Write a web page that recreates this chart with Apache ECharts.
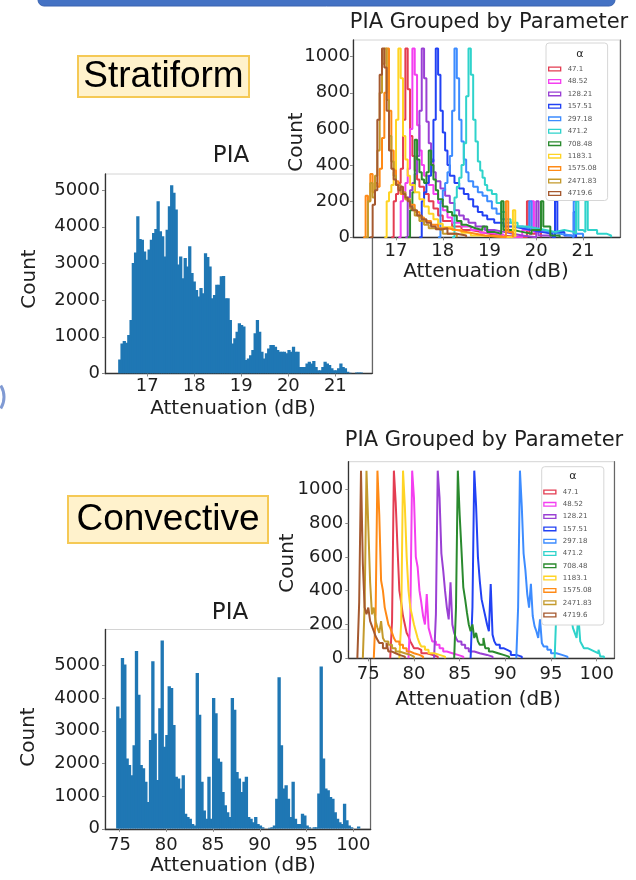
<!DOCTYPE html>
<html>
<head>
<meta charset="utf-8">
<script src="https://cdn.jsdelivr.net/npm/echarts@6.0.0/dist/echarts.min.js"></script>
<style>
  html, body { margin: 0; padding: 0; background: #ffffff; }
  #chart { width: 636px; height: 880px; }
</style>
</head>
<body>
<div id="chart"></div>
<script>
// ---------- Stratiform PIA histogram (counts per bin) ----------
const STRAT_BIN_START = 16.38;
const STRAT_BIN_WIDTH = 0.048;
const STRAT_COUNTS = [
  380, 820, 885, 840, 1050, 1460, 3010, 3300, 4290, 3670,
  3650, 3330, 3100, 3380, 3650, 3830, 3940, 4700, 3880, 3740,
  3190, 3920, 4560, 5130, 4930, 4470, 2970, 3190, 2600, 3150,
  2920, 3470, 2740, 2510, 2280, 2100, 2330, 2190, 3280, 3180,
  2920, 2050, 2140, 2420, 2420, 2650, 2660, 2050, 2050, 1460,
  820, 960, 1140, 1370, 1320, 1280, 365, 410, 500, 640,
  1100, 1460, 1140, 590, 410, 550, 680, 775, 775, 730,
  640, 590, 590, 590, 550, 640, 590, 730, 590, 590,
  180, 180, 180, 270, 320, 270, 340, 180, 90, 90,
  180, 320, 270, 230, 140, 90, 90, 140, 270, 180,
  140, 45, 20, 0, 0, 30, 30, 30
];

// ---------- Convective PIA histogram (counts per bin) ----------
const CONV_BIN_START = 74.64;
const CONV_BIN_WIDTH = 0.25;
const CONV_COUNTS = [
  3740, 3380, 5230, 5030, 2150, 1950, 1640, 2560, 5440, 4100,
  1950, 1850, 1440, 820, 2720, 5130, 2920, 1490, 3690, 5760,
  2510, 2870, 4360, 4310, 3180, 1590, 1540, 1230, 1640, 460,
  360, 310, 150, 100, 4770, 3490, 1440, 560, 310, 1590,
  310, 4000, 3540, 2150, 2050, 1130, 720, 510, 360, 4000,
  3640, 1740, 1540, 1130, 1440, 1590, 360, 310, 200, 360,
  150, 100, 50, 0, 0, 30, 50, 100, 920, 4640,
  2560, 1230, 1330, 920, 360, 1440, 310, 150, 150, 460,
  410, 100, 50, 0, 50, 50, 1080, 4970, 2150, 1230,
  1180, 970, 920, 510, 310, 200, 150, 770, 260, 100,
  50, 0, 0, 70
];

// ---------- parameter values (alpha) ----------
const ALPHA_LABELS = ['47.1', '48.52', '128.21', '157.51', '297.18', '471.2',
                      '708.48', '1183.1', '1575.08', '2471.83', '4719.6'];

// ---------- tick labels ----------
const STRAT_X_TICKS = [17, 18, 19, 20, 21];
const CONV_X_TICKS = [75, 80, 85, 90, 95, 100];
const HIST_Y_TICKS = [0, 1000, 2000, 3000, 4000, 5000];
const GROUP_Y_TICKS = [0, 200, 400, 600, 800, 1000];

// ---------- stratiform, grouped by alpha: [bin left edge (dB), count] ----------
const STRAT_A47_1 = [[16.9,0],[16.95,200],[17.0,240],[17.05,300],[17.1,380],[17.15,650],[17.2,1045],[17.25,820],[17.3,560],[17.35,450],[17.4,370],[17.45,320],[17.5,280],[17.6,240],[17.7,200],[17.8,160],[17.9,120],[18.0,90],[18.2,60],[18.4,40],[18.6,30],[18.8,20],[19.0,10],[19.2,0],[19.8,200],[19.85,20],[20.0,40],[20.1,0]];
const STRAT_A48_52 = [[17.05,0],[17.1,200],[17.15,240],[17.2,300],[17.25,380],[17.3,600],[17.35,1045],[17.4,900],[17.45,620],[17.5,480],[17.55,400],[17.6,340],[17.7,290],[17.8,240],[17.9,190],[18.0,150],[18.1,110],[18.2,80],[18.4,60],[18.6,40],[18.8,25],[19.0,15],[19.3,0],[19.7,40],[19.9,200],[19.95,30],[20.2,20],[20.3,0]];
const STRAT_A128_21 = [[17.2,0],[17.25,220],[17.3,260],[17.35,300],[17.4,350],[17.45,450],[17.5,700],[17.55,1045],[17.6,880],[17.65,640],[17.7,520],[17.75,430],[17.8,360],[17.85,310],[17.95,270],[18.05,230],[18.15,190],[18.25,150],[18.35,120],[18.45,100],[18.55,80],[18.7,60],[18.9,40],[19.1,30],[19.3,20],[19.5,10],[19.7,0],[20.0,200],[20.05,10],[20.3,0]];
const STRAT_A157_51 = [[17.5,0],[17.55,200],[17.6,250],[17.65,300],[17.7,340],[17.75,420],[17.8,650],[17.85,1045],[17.9,900],[17.95,700],[18.0,580],[18.05,480],[18.1,400],[18.15,340],[18.25,300],[18.35,270],[18.45,240],[18.55,210],[18.65,170],[18.75,140],[18.85,120],[18.95,100],[19.1,80],[19.3,60],[19.5,50],[19.7,40],[19.9,30],[20.1,20],[20.35,0],[20.4,200],[20.45,30],[20.6,10],[20.75,0],[20.8,140],[20.85,0]];
const STRAT_A297_18 = [[17.9,0],[17.95,200],[18.0,260],[18.05,300],[18.1,360],[18.15,450],[18.2,700],[18.25,1045],[18.3,880],[18.35,650],[18.4,530],[18.45,430],[18.5,360],[18.55,310],[18.65,280],[18.75,250],[18.85,230],[18.95,200],[19.05,160],[19.15,130],[19.25,100],[19.35,80],[19.5,60],[19.7,50],[19.85,200],[19.9,40],[20.1,30],[20.3,20],[20.5,10],[20.75,0],[20.8,200],[20.85,20],[21.0,0]];
const STRAT_A471_2 = [[18.2,0],[18.25,220],[18.3,280],[18.35,330],[18.4,400],[18.45,520],[18.5,780],[18.55,1045],[18.6,900],[18.65,650],[18.7,530],[18.75,420],[18.8,370],[18.85,330],[18.9,290],[18.95,260],[19.05,240],[19.15,190],[19.25,140],[19.35,100],[19.45,80],[19.6,60],[19.8,50],[20.0,40],[20.2,30],[20.4,40],[20.6,30],[20.8,20],[20.85,200],[20.9,40],[21.0,30],[21.05,200],[21.1,40],[21.3,20],[21.5,10],[21.6,0]];
const STRAT_A708_48 = [[17.25,0],[17.3,150],[17.35,250],[17.4,540],[17.45,430],[17.5,360],[17.55,320],[17.6,300],[17.65,360],[17.7,480],[17.75,400],[17.8,320],[17.85,260],[17.9,210],[18.0,170],[18.1,140],[18.2,120],[18.3,90],[18.4,70],[18.5,60],[18.6,50],[18.7,40],[18.85,60],[18.95,30],[19.1,20],[19.25,200],[19.3,40],[19.5,30],[19.7,20],[19.9,40],[20.1,200],[20.15,60],[20.3,10],[20.5,0]];
const STRAT_A1183_1 = [[16.75,0],[16.8,200],[16.85,250],[16.9,290],[16.95,360],[17.0,650],[17.05,1045],[17.1,880],[17.15,560],[17.2,430],[17.25,340],[17.3,290],[17.4,250],[17.5,210],[17.6,170],[17.7,130],[17.8,100],[17.9,75],[18.0,55],[18.2,40],[18.4,25],[18.6,10],[18.8,0],[19.5,150],[19.55,0]];
const STRAT_A1575_08 = [[16.3,0],[16.35,230],[16.4,200],[16.45,350],[16.5,250],[16.55,300],[16.6,280],[16.65,380],[16.7,550],[16.75,800],[16.8,1045],[16.85,700],[16.9,480],[16.95,370],[17.0,310],[17.05,270],[17.1,240],[17.2,210],[17.3,180],[17.4,140],[17.5,110],[17.6,90],[17.75,70],[17.9,50],[18.1,40],[18.3,30],[18.5,20],[18.7,10],[18.9,0],[19.35,200],[19.4,30],[19.5,0]];
const STRAT_A2471_83 = [[16.35,0],[16.4,200],[16.45,300],[16.5,220],[16.55,340],[16.6,480],[16.65,800],[16.7,960],[16.75,1045],[16.8,760],[16.85,560],[16.9,420],[16.95,340],[17.0,290],[17.1,250],[17.2,210],[17.3,160],[17.4,120],[17.5,90],[17.6,70],[17.7,50],[17.85,40],[18.0,20],[18.3,0]];
const STRAT_A4719_6 = [[16.45,0],[16.5,180],[16.55,260],[16.6,650],[16.65,900],[16.7,1045],[16.75,940],[16.8,700],[16.85,480],[16.9,380],[16.95,320],[17.0,290],[17.05,260],[17.1,280],[17.15,240],[17.2,220],[17.25,200],[17.3,170],[17.35,150],[17.45,120],[17.55,100],[17.65,80],[17.75,60],[17.85,45],[18.0,50],[18.1,20],[18.3,10],[18.5,0]];

// ---------- convective, grouped by alpha: [bin left edge (dB), count] ----------
const CONV_A47_1 = [[77.4,0],[77.6,220],[77.8,1110],[78.0,920],[78.2,650],[78.4,400],[78.6,330],[78.8,250],[79.0,200],[79.2,150],[79.4,130],[79.6,100],[79.8,80],[80.0,60],[80.4,50],[80.8,30],[81.4,20],[82.0,10],[82.6,0]];
const CONV_A48_52 = [[79.4,0],[79.6,250],[79.8,1110],[80.0,950],[80.2,600],[80.4,540],[80.6,400],[80.8,330],[81.0,250],[81.2,200],[81.4,380],[81.6,180],[81.8,140],[82.0,100],[82.4,80],[82.8,60],[83.2,40],[83.6,30],[84.2,20],[84.8,10],[85.4,0]];
const CONV_A128_21 = [[82.2,0],[82.4,260],[82.6,1110],[82.8,950],[83.0,620],[83.2,520],[83.4,400],[83.6,300],[83.8,230],[84.0,450],[84.2,200],[84.4,150],[84.6,120],[84.8,100],[85.2,80],[85.6,60],[86.0,40],[86.6,30],[87.2,20],[88.0,10],[88.6,0]];
const CONV_A157_51 = [[86.2,0],[86.4,300],[86.6,1110],[86.8,900],[87.0,600],[87.2,460],[87.4,350],[87.6,300],[87.8,250],[88.0,200],[88.2,160],[88.4,440],[88.6,140],[88.8,100],[89.0,80],[89.4,60],[89.8,50],[90.2,40],[90.6,20],[91.2,10],[91.8,0]];
const CONV_A297_18 = [[91.2,0],[91.4,300],[91.6,1110],[91.8,900],[92.0,620],[92.2,520],[92.4,380],[92.6,300],[92.8,440],[93.0,250],[93.2,190],[93.4,160],[93.6,120],[93.8,230],[94.0,90],[94.2,70],[94.6,50],[95.0,30],[95.6,20],[96.2,10],[96.8,0]];
const CONV_A471_2 = [[95.4,0],[95.6,300],[95.8,1110],[96.0,850],[96.2,550],[96.4,420],[96.6,330],[96.8,300],[97.0,460],[97.2,250],[97.4,180],[97.6,150],[97.8,120],[98.0,250],[98.2,100],[98.4,80],[98.6,60],[99.0,50],[99.4,40],[99.8,30],[100.2,50],[100.4,10],[100.8,0]];
const CONV_A708_48 = [[84.4,0],[84.6,300],[84.8,1110],[85.0,850],[85.2,640],[85.4,420],[85.6,350],[85.8,270],[86.0,200],[86.2,160],[86.4,200],[86.6,120],[86.8,150],[87.0,100],[87.2,80],[87.6,120],[87.8,60],[88.2,40],[88.6,30],[89.2,20],[89.8,10],[90.4,0]];
const CONV_A1183_1 = [[78.4,0],[78.6,210],[78.8,1110],[79.0,900],[79.2,600],[79.4,400],[79.6,300],[79.8,250],[80.0,200],[80.2,160],[80.4,120],[80.6,90],[80.8,70],[81.2,50],[81.6,30],[82.2,20],[82.8,10],[83.4,0]];
const CONV_A1575_08 = [[75.6,0],[75.8,260],[76.0,1110],[76.2,850],[76.4,460],[76.6,400],[76.8,300],[77.0,250],[77.2,200],[77.4,180],[77.6,150],[77.8,120],[78.0,100],[78.4,80],[78.8,60],[79.2,40],[79.6,30],[80.0,20],[80.6,10],[81.0,0]];
const CONV_A2471_83 = [[74.4,0],[74.6,320],[74.8,1110],[75.0,780],[75.2,450],[75.4,260],[75.6,300],[75.8,220],[76.0,180],[76.2,150],[76.4,220],[76.6,120],[76.8,100],[77.2,80],[77.6,60],[78.0,40],[78.4,30],[79.0,20],[79.6,10],[80.0,0]];
const CONV_A4719_6 = [[73.8,0],[74.0,330],[74.2,1110],[74.4,560],[74.6,300],[74.8,260],[75.0,300],[75.2,220],[75.4,190],[75.6,160],[75.8,130],[76.0,110],[76.2,90],[76.6,60],[77.0,90],[77.2,40],[77.6,30],[78.0,20],[78.4,10],[79.0,0]];

const STRAT_GROUPS = [STRAT_A47_1, STRAT_A48_52, STRAT_A128_21, STRAT_A157_51, STRAT_A297_18, STRAT_A471_2,
                      STRAT_A708_48, STRAT_A1183_1, STRAT_A1575_08, STRAT_A2471_83, STRAT_A4719_6];
const CONV_GROUPS = [CONV_A47_1, CONV_A48_52, CONV_A128_21, CONV_A157_51, CONV_A297_18, CONV_A471_2,
                     CONV_A708_48, CONV_A1183_1, CONV_A1575_08, CONV_A2471_83, CONV_A4719_6];

// ---------- styling ----------
const GROUP_COLORS = ['#e43d52', '#f43ff0', '#9a40d4', '#2242f4', '#3d8cff', '#2fd3cb',
                      '#2a8a2e', '#ffd424', '#ff8a16', '#c49a2c', '#a5592f'];
const HIST_COLOR = '#1f77b4';
const FONT = '"DejaVu Sans", sans-serif';
const TEXT_COLOR = '#1e1e1e';
const OUTLINE_ICON = 'path://M0,0H16V6H0Z M1.6,1.6V4.4H14.4V1.6Z';

// panel frames: [left, top, width, height] with their data extents
const PANELS = [
  { box: [105, 174, 267, 199.5], x: [16.10, 21.78], y: [0, 5440], xt: STRAT_X_TICKS, yt: HIST_Y_TICKS, xm: 4, ym: 5, layer: 0 },
  { box: [353, 40, 267, 197.3], x: [16.08, 21.79], y: [0, 1092], xt: STRAT_X_TICKS, yt: GROUP_Y_TICKS, xm: 5, ym: 3, layer: 1 },
  { box: [348.3, 461.7, 266, 196.6], x: [72.81, 101.93], y: [0, 1163], xt: CONV_X_TICKS, yt: GROUP_Y_TICKS, xm: 7, ym: 5, layer: 1 },
  { box: [105, 629.5, 265.7, 199.3], x: [73.45, 101.86], y: [0, 6100], xt: CONV_X_TICKS, yt: HIST_Y_TICKS, xm: 8, ym: 5, layer: 0 }
];

function histBins(start, width, counts) {
  return counts.map((c, i) => [start + i * width, start + (i + 1) * width, c]);
}

// one filled bar per bin, placed through the panel's own axes
function renderBin(params, api) {
  const top = api.coord([api.value(0), api.value(2)]);
  const base = api.coord([api.value(1), 0]);
  return {
    type: 'rect',
    shape: { x: top[0], y: top[1], width: base[0] - top[0] + 1, height: base[1] - top[1] },
    style: { fill: HIST_COLOR }
  };
}

const tickLabel = (margin, values) => ({
  customValues: values, margin: margin, fontSize: 18, fontFamily: FONT, color: TEXT_COLOR,
  formatter: (v) => String(v)
});

const grids = PANELS.map(p => ({
  left: p.box[0], top: p.box[1], width: p.box[2], height: p.box[3],
  show: true, borderColor: '#d4d4d4', borderWidth: 1,
  backgroundColor: p.layer ? '#ffffff' : 'transparent',
  zlevel: p.layer
}));

const xAxes = PANELS.map((p, i) => ({
  type: 'value', gridIndex: i, min: p.x[0], max: p.x[1], zlevel: p.layer,
  axisLine: { show: true, onZero: false, lineStyle: { color: '#333333', width: 1.3 } },
  axisTick: { show: true, length: 3, customValues: p.xt, lineStyle: { color: '#888888' } },
  axisLabel: tickLabel(p.xm, p.xt),
  splitLine: { show: false }
}));

const yAxes = PANELS.map((p, i) => ({
  type: 'value', gridIndex: i, min: p.y[0], max: p.y[1], zlevel: p.layer,
  axisLine: { show: true, onZero: false, lineStyle: { color: '#333333', width: 1.3 } },
  axisTick: { show: true, length: 3, customValues: p.yt, lineStyle: { color: '#888888' } },
  axisLabel: tickLabel(p.ym, p.yt),
  splitLine: { show: false }
})).concat(PANELS.map((p, i) => ({
  // right-hand frame edge
  type: 'value', gridIndex: i, position: 'right', min: p.y[0], max: p.y[1], zlevel: p.layer,
  axisLine: { show: true, onZero: false, lineStyle: { color: '#666666', width: 1.2 } },
  axisTick: { show: false }, axisLabel: { show: false }, splitLine: { show: false }
})));

const series = [
  { type: 'custom', xAxisIndex: 0, yAxisIndex: 0, clip: true, encode: { x: [0, 1], y: 2 },
    renderItem: renderBin, data: histBins(STRAT_BIN_START, STRAT_BIN_WIDTH, STRAT_COUNTS) },
  { type: 'custom', xAxisIndex: 3, yAxisIndex: 3, clip: true, encode: { x: [0, 1], y: 2 },
    renderItem: renderBin, data: histBins(CONV_BIN_START, CONV_BIN_WIDTH, CONV_COUNTS) }
];

// step outline of one alpha group
function stepSeries(axisIndex, data, k) {
  return {
    type: 'line', name: ALPHA_LABELS[k], xAxisIndex: axisIndex, yAxisIndex: axisIndex,
    step: 'end', symbol: 'none', showSymbol: false, clip: true, zlevel: 1,
    lineStyle: { color: GROUP_COLORS[k], width: 2 },
    itemStyle: { color: GROUP_COLORS[k] },
    emphasis: { disabled: true },
    data: data
  };
}
STRAT_GROUPS.forEach((d, k) => series.push(stepSeries(1, d, k)));
CONV_GROUPS.forEach((d, k) => series.push(stepSeries(2, d, k)));

const legendBase = {
  orient: 'vertical', zlevel: 1, z: 10, selectedMode: false,
  itemWidth: 16, itemHeight: 5, icon: OUTLINE_ICON,
  textStyle: { fontSize: 7, lineHeight: 8, color: '#555555', fontFamily: FONT },
  backgroundColor: '#ffffff', borderColor: '#d6d6d6', borderWidth: 1, borderRadius: 3,
  data: ALPHA_LABELS
};

const txt = (x, y, text, size, extra) => Object.assign({
  type: 'text', x: x, y: y,
  style: { text: text, font: size + 'px ' + FONT, fill: TEXT_COLOR, align: 'center', verticalAlign: 'middle' }
}, extra || {});

const graphics = [
  // banner strip along the top
  { type: 'rect', shape: { x: 38, y: -12, width: 577, height: 18, r: 6 },
    style: { fill: '#4472c4', stroke: '#3a63b0', lineWidth: 1 } },
  { type: 'arc', shape: { cx: -18, cy: 397, r: 22, startAngle: -0.55, endAngle: 0.55 },
    style: { stroke: '#4a6fc0', lineWidth: 3, fill: null, opacity: 0.7 } },
  // regime labels
  { type: 'rect', shape: { x: 78, y: 56, width: 171, height: 41 },
    style: { fill: '#fff2cc', stroke: '#f5c955', lineWidth: 2 } },
  { type: 'text', x: 163.5, y: 77, style: { text: 'Stratiform', font: '37px "Liberation Sans", Arial, sans-serif',
    fill: '#000000', align: 'center', verticalAlign: 'middle' } },
  { type: 'rect', shape: { x: 68, y: 496, width: 200, height: 47 },
    style: { fill: '#fff2cc', stroke: '#f5c955', lineWidth: 2 } },
  { type: 'text', x: 168, y: 520, style: { text: 'Convective', font: '37px "Liberation Sans", Arial, sans-serif',
    fill: '#000000', align: 'center', verticalAlign: 'middle' } },
  // panel titles
  txt(231, 156, 'PIA', 23),
  txt(230, 613.5, 'PIA', 23),
  txt(489, 23, 'PIA Grouped by Parameter', 21),
  txt(484, 441, 'PIA Grouped by Parameter', 21),
  // axis titles
  txt(30, 279, 'Count', 20, { rotation: Math.PI / 2 }),
  txt(233, 409, 'Attenuation (dB)', 20),
  txt(297, 142, 'Count', 20, { rotation: Math.PI / 2 }),
  txt(486, 272, 'Attenuation (dB)', 20),
  txt(288, 563, 'Count', 20, { rotation: Math.PI / 2 }),
  txt(478, 700, 'Attenuation (dB)', 20),
  txt(29, 737, 'Count', 20, { rotation: Math.PI / 2 }),
  txt(233, 866, 'Attenuation (dB)', 20),
  // legend headings
  txt(580, 54, 'α', 11, { zlevel: 1, z: 100 }),
  txt(573, 476, 'α', 11, { zlevel: 1, z: 100 })
];

const chart = echarts.init(document.getElementById('chart'), null, { renderer: 'canvas' });
chart.setOption({
  animation: false,
  backgroundColor: '#ffffff',
  grid: grids,
  xAxis: xAxes,
  yAxis: yAxes,
  legend: [
    Object.assign({}, legendBase, { left: 546, top: 43, padding: [22, 11, 3, 2], itemGap: 4.45, itemTextGap: 11 }),
    Object.assign({}, legendBase, { left: 541.7, top: 466.7, padding: [21.3, 12, 6, 1.5], itemGap: 4.3, itemTextGap: 10 })
  ],
  graphic: { elements: graphics },
  series: series
});
</script>
</body>
</html>
